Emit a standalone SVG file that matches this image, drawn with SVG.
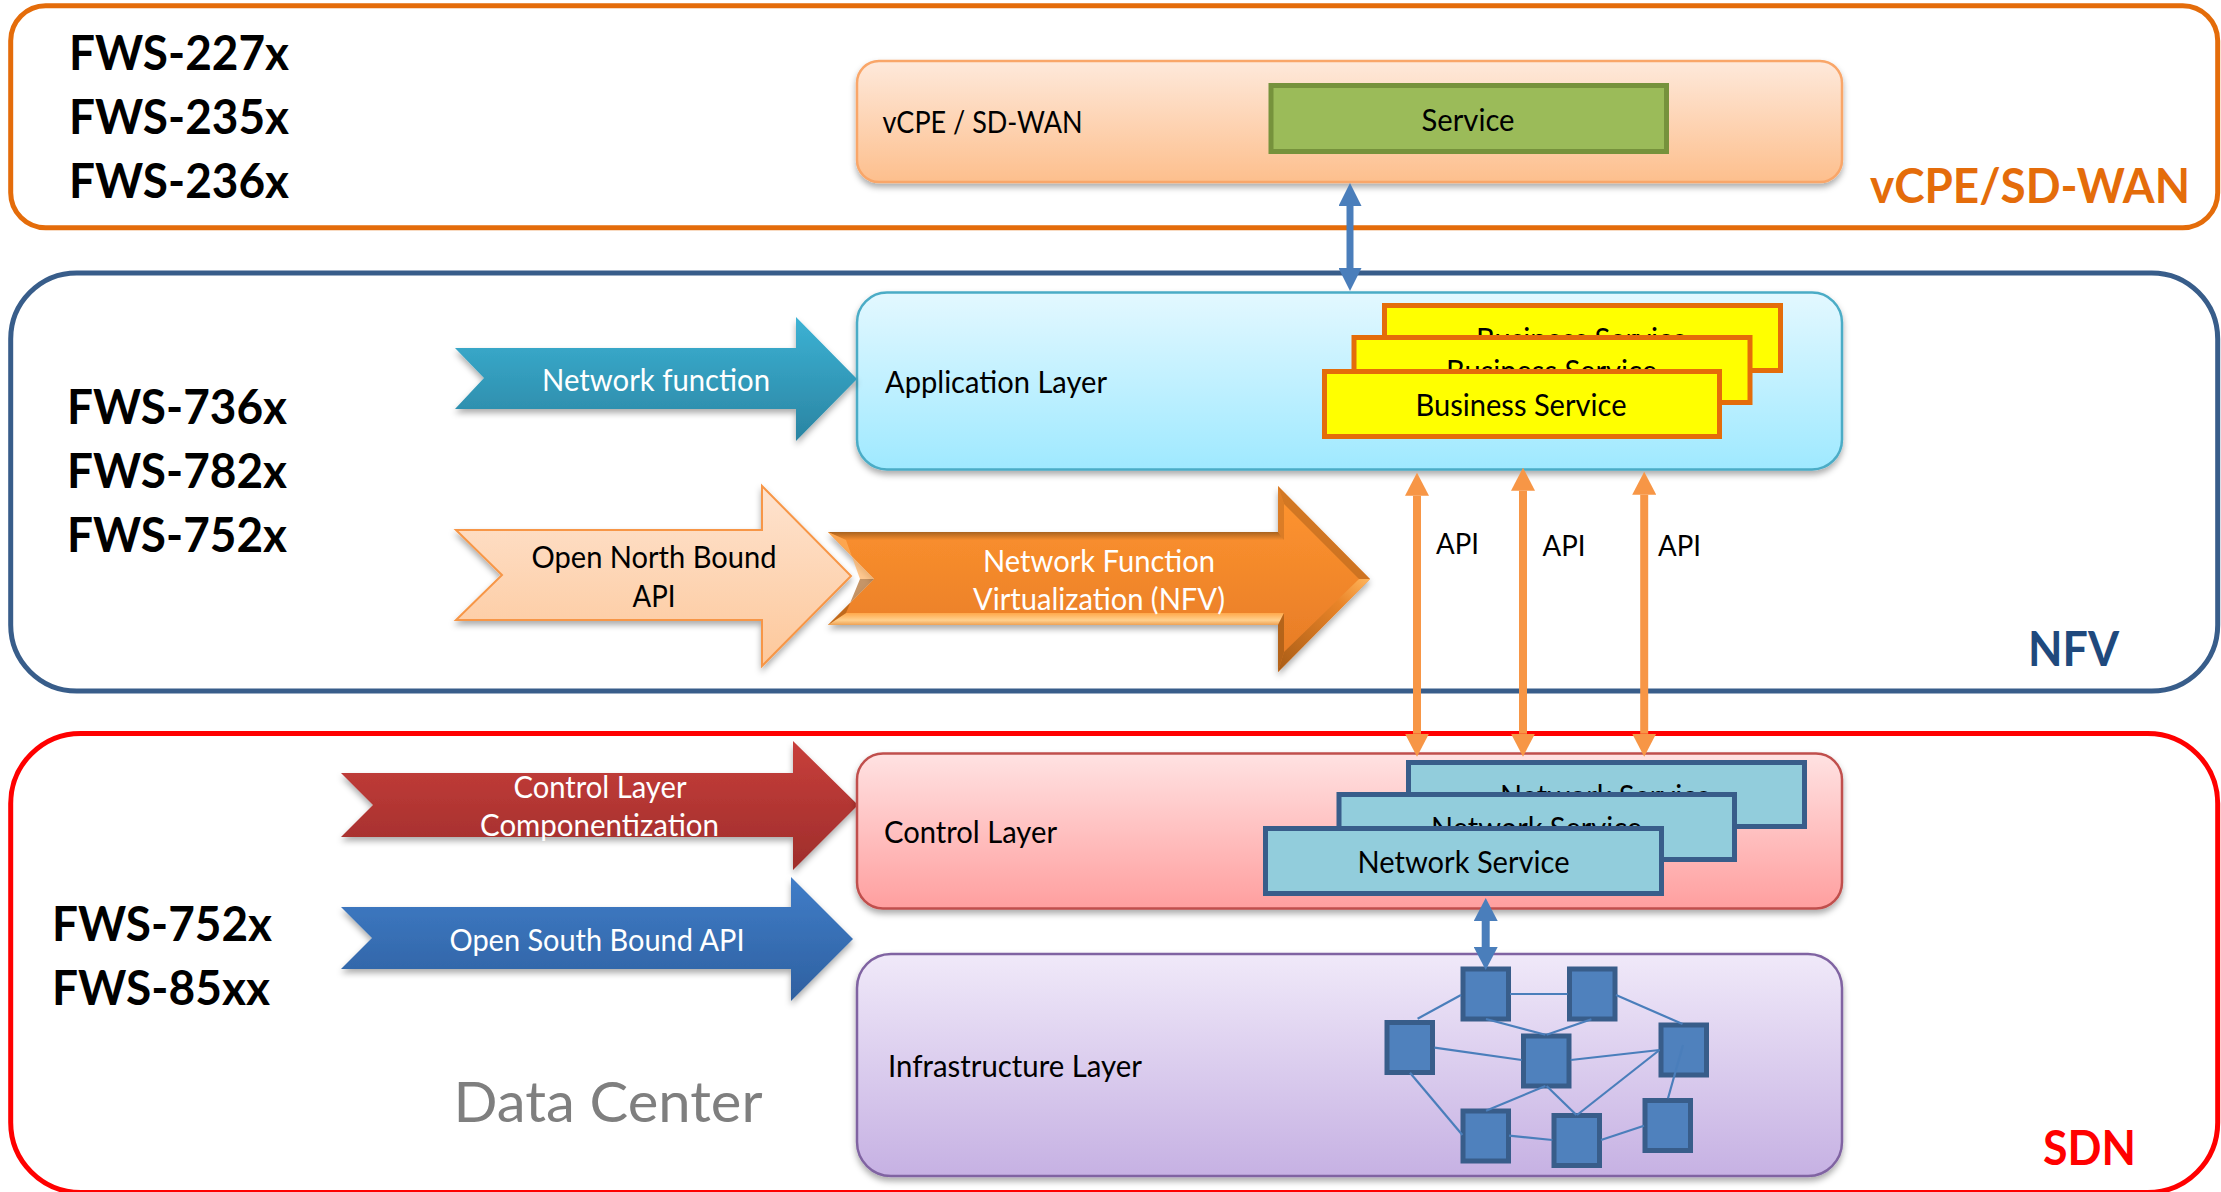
<svg xmlns="http://www.w3.org/2000/svg" width="2221" height="1192" viewBox="0 0 2221 1192">
<style>
text{font-family:Lato,"Liberation Sans",sans-serif;fill:#000}
.fws{font-size:48px;font-weight:700}
.lbl{font-size:30px}
.w{fill:#fff}
.c{text-anchor:middle}
.frame{fill:none;stroke-width:5}
.layer{stroke-width:2.5;filter:url(#sh)}
.biz{fill:#ff0;stroke:#e46c0a;stroke-width:5}
.net{fill:#92cddc;stroke:#385d8a;stroke-width:5}
.sw{fill:#4f81bd;stroke:#385d8a;stroke-width:5}
.ar{filter:url(#sh)}
.link{stroke:#4a7ebb;stroke-width:2.2;fill:none}
.blue{stroke:#4a7ebb;fill:none}
.api{stroke:#f79646;stroke-width:8;fill:none;marker-start:url(#oh);marker-end:url(#oh)}
</style>
<defs>
<filter id="sh" x="-5%" y="-10%" width="110%" height="125%"><feDropShadow dx="0" dy="4" stdDeviation="3" flood-color="#000" flood-opacity=".33"/></filter>
<linearGradient id="gV" x1="0" y1="0" x2="0" y2="1"><stop offset="0" stop-color="#fee9db"/><stop offset="1" stop-color="#fdbf8d"/></linearGradient>
<linearGradient id="gA" x1="0" y1="0" x2="0" y2="1"><stop offset="0" stop-color="#e3f8ff"/><stop offset="1" stop-color="#9fe9ff"/></linearGradient>
<linearGradient id="gC" x1="0" y1="0" x2="0" y2="1"><stop offset="0" stop-color="#ffe2e2"/><stop offset="1" stop-color="#ff9f9f"/></linearGradient>
<linearGradient id="gI" x1="0" y1="0" x2="0" y2="1"><stop offset="0" stop-color="#f0e9f9"/><stop offset="1" stop-color="#c6b1e3"/></linearGradient>
<linearGradient id="gT" x1="0" y1="0" x2="0" y2="1"><stop offset="0" stop-color="#3cb2d4"/><stop offset="1" stop-color="#2a84a2"/></linearGradient>
<linearGradient id="gP" x1="0" y1="0" x2="0" y2="1"><stop offset="0" stop-color="#fee3cf"/><stop offset="1" stop-color="#fdc89b"/></linearGradient>
<linearGradient id="gO" x1="0" y1="0" x2="0" y2="1"><stop offset="0" stop-color="#ff9530"/><stop offset="1" stop-color="#e57a26"/></linearGradient>
<linearGradient id="gR" x1="0" y1="0" x2="0" y2="1"><stop offset="0" stop-color="#c83f3b"/><stop offset="1" stop-color="#9e2d2b"/></linearGradient>
<linearGradient id="gB" x1="0" y1="0" x2="0" y2="1"><stop offset="0" stop-color="#407dc8"/><stop offset="1" stop-color="#2e60a0"/></linearGradient>
<linearGradient id="bTop" x1="0" y1="0" x2="0" y2="1"><stop offset="0" stop-color="#a8621e"/><stop offset="1" stop-color="#f58c2d"/></linearGradient>
<linearGradient id="bBot" x1="0" y1="0" x2="0" y2="1"><stop offset="0" stop-color="#ffa84a"/><stop offset=".6" stop-color="#ffd08e"/><stop offset="1" stop-color="#eea255"/></linearGradient>
<linearGradient id="bHead" gradientUnits="userSpaceOnUse" x1="1370" y1="579" x2="1278" y2="672"><stop offset="0" stop-color="#ffb55c"/><stop offset=".3" stop-color="#e98428"/><stop offset="1" stop-color="#a85c16"/></linearGradient>
<marker id="bh1" viewBox="0 0 23 23" refX="0" refY="11.5" markerUnits="userSpaceOnUse" markerWidth="23" markerHeight="23" orient="auto-start-reverse"><path d="M0,0L23,11.5L0,23z" fill="#4a7ebb"/></marker>
<marker id="bh2" viewBox="0 0 23 24" refX="0" refY="12" markerUnits="userSpaceOnUse" markerWidth="23" markerHeight="24" orient="auto-start-reverse"><path d="M0,0L23,12L0,24z" fill="#4a7ebb"/></marker>
<marker id="oh" viewBox="0 0 23 24" refX="0" refY="12" markerUnits="userSpaceOnUse" markerWidth="23" markerHeight="24" orient="auto-start-reverse"><path d="M0,0L23,12L0,24z" fill="#f79646"/></marker>
</defs>
<rect width="2221" height="1192" fill="#fff"/>

<g id="frame-vcpe"><rect class="frame" x="10.700" y="5.700" width="2207" height="222" rx="35" stroke="#e46c0a"/>
<text class="fws" x="69" y="70" textLength="220" lengthAdjust="spacingAndGlyphs">FWS-227x</text>
<text class="fws" x="69" y="134" textLength="220" lengthAdjust="spacingAndGlyphs">FWS-235x</text>
<text class="fws" x="69" y="198" textLength="220" lengthAdjust="spacingAndGlyphs">FWS-236x</text>
<text class="fws" x="1870" y="203" textLength="320" lengthAdjust="spacingAndGlyphs" style="fill:#e46c0a">vCPE/SD-WAN</text></g>

<g id="frame-nfv"><rect class="frame" x="10.700" y="273" width="2207" height="418" rx="66" stroke="#385d8a"/>
<text class="fws" x="67" y="424" textLength="220" lengthAdjust="spacingAndGlyphs">FWS-736x</text>
<text class="fws" x="67" y="488" textLength="220" lengthAdjust="spacingAndGlyphs">FWS-782x</text>
<text class="fws" x="67" y="552" textLength="220" lengthAdjust="spacingAndGlyphs">FWS-752x</text>
<text class="fws" x="2028" y="666" textLength="91" lengthAdjust="spacingAndGlyphs" style="fill:#1f497d">NFV</text></g>

<g id="frame-sdn"><rect class="frame" x="10.700" y="733.500" width="2207" height="459" rx="70" stroke="#f00"/>
<text class="fws" x="52" y="941" textLength="220" lengthAdjust="spacingAndGlyphs">FWS-752x</text>
<text class="fws" x="52" y="1005" textLength="218" lengthAdjust="spacingAndGlyphs">FWS-85xx</text>
<text x="2043" y="1165" class="fws" textLength="93" lengthAdjust="spacingAndGlyphs" style="fill:#f00">SDN</text>
<text x="453.500" y="1122" textLength="309" lengthAdjust="spacingAndGlyphs" style="font-size:57px;fill:#7f7f7f">Data Center</text></g>

<g id="layer-vcpe"><rect class="layer" x="857" y="61" width="985" height="121" rx="22" fill="url(#gV)" stroke="#f9a669"/>
<text class="lbl" x="882.500" y="133" textLength="200" lengthAdjust="spacingAndGlyphs">vCPE / SD-WAN</text></g>
<g id="service"><rect x="1271" y="85.500" width="395.500" height="66" fill="#9bbb59" stroke="#76923c" stroke-width="5"/>
<text class="lbl c" x="1468" y="130.500" textLength="93" lengthAdjust="spacingAndGlyphs">Service</text></g>

<g id="layer-application"><rect class="layer" x="857" y="292.500" width="985" height="177" rx="30" fill="url(#gA)" stroke="#4bacc6"/>
<text class="lbl" x="885" y="393" textLength="222" lengthAdjust="spacingAndGlyphs">Application Layer</text></g>
<g id="business-3"><rect class="biz" x="1384.500" y="305.500" width="396" height="65"/><text class="lbl c" x="1581.500" y="349.500" textLength="211" lengthAdjust="spacingAndGlyphs">Business Service</text></g>
<g id="business-2"><rect class="biz" x="1354" y="337.500" width="396" height="65"/><text class="lbl c" x="1551.500" y="381.500" textLength="211" lengthAdjust="spacingAndGlyphs">Business Service</text></g>
<g id="business-1"><rect class="biz" x="1324.500" y="371.500" width="395" height="65"/><text class="lbl c" x="1521" y="415.500" textLength="211" lengthAdjust="spacingAndGlyphs">Business Service</text></g>

<g id="arrow-network-function"><polygon class="ar" points="455,348 796,348 796,317 857,379 796,441 796,409 455,409 484,378" fill="url(#gT)"/>
<text class="lbl w" x="542" y="390.500" textLength="228" lengthAdjust="spacingAndGlyphs">Network function</text></g>

<g id="arrow-north-bound"><polygon class="ar" points="456,530 762,530 762,486 851,576 762,666 762,620 456,620 502,575" fill="url(#gP)" stroke="#f79646" stroke-width="2"/>
<text class="lbl c" x="654" y="568" textLength="245" lengthAdjust="spacingAndGlyphs">Open North Bound</text>
<text class="lbl c" x="654" y="607" textLength="43" lengthAdjust="spacingAndGlyphs">API</text></g>

<g id="arrow-nfv"><polygon class="ar" points="828,532 1278,532 1278,486 1370,579 1278,672 1278,625 828,625 874,579" fill="url(#gO)"/>
<polygon points="828,532 1278,532 1284,540 846,540" fill="url(#bTop)"/>
<polygon points="828,625 1278,625 1284,613 846,613" fill="url(#bBot)"/>
<polygon points="1278,486 1370,579 1359,579 1284,504" fill="#b5651d" opacity=".6"/>
<polygon points="1370,579 1278,672 1284,652 1359,579" fill="url(#bHead)"/>
<polygon points="1278,486 1284,504 1284,540 1278,532" fill="#b5651d" opacity=".45"/>
<polygon points="1278,625 1284,613 1284,652 1278,672" fill="#a85c16" opacity=".8"/>
<polygon points="828,625 874,579 860,579 846,613" fill="#a85c16" opacity=".65"/>
<polygon points="828,532 874,579 860,579 846,540" fill="#ffb060" opacity=".7"/>
<text class="lbl w c" x="1099" y="572" textLength="232" lengthAdjust="spacingAndGlyphs">Network Function</text>
<text class="lbl w c" x="1099" y="610" textLength="252" lengthAdjust="spacingAndGlyphs">Virtualization (NFV)</text></g>

<g id="arrow-control"><polygon class="ar" points="341,773 793,773 793,741 858,805 793,870 793,837 341,837 373,805" fill="url(#gR)"/>
<text class="lbl w c" x="600" y="798" textLength="173" lengthAdjust="spacingAndGlyphs">Control Layer</text>
<text class="lbl w c" x="599.500" y="836" textLength="239" lengthAdjust="spacingAndGlyphs">Componentization</text></g>

<g id="arrow-south-bound"><polygon class="ar" points="341,907 791,907 791,877 853,939 791,1001 791,969 341,969 372,938" fill="url(#gB)"/>
<text class="lbl w" x="449.500" y="950.500" textLength="295" lengthAdjust="spacingAndGlyphs">Open South Bound API</text></g>

<g id="layer-control"><rect class="layer" x="857" y="753.500" width="985" height="155" rx="26" fill="url(#gC)" stroke="#c0504d"/>
<text class="lbl" x="884" y="843" textLength="173" lengthAdjust="spacingAndGlyphs">Control Layer</text></g>
<g id="network-3"><rect class="net" x="1408.500" y="762.500" width="396" height="64"/><text class="lbl c" x="1605.500" y="807" textLength="211" lengthAdjust="spacingAndGlyphs">Network Service</text></g>
<g id="network-2"><rect class="net" x="1339" y="794.500" width="395.500" height="65"/><text class="lbl c" x="1536.500" y="839" textLength="211" lengthAdjust="spacingAndGlyphs">Network Service</text></g>
<g id="network-1"><rect class="net" x="1265.500" y="828.500" width="396" height="65"/><text class="lbl c" x="1463.500" y="873" textLength="212" lengthAdjust="spacingAndGlyphs">Network Service</text></g>

<g id="layer-infrastructure"><rect class="layer" x="857" y="954" width="985" height="222" rx="34" fill="url(#gI)" stroke="#8064a2"/>
<text class="lbl" x="888" y="1077" textLength="254" lengthAdjust="spacingAndGlyphs">Infrastructure Layer</text></g>

<g id="sw-a"><rect class="sw" x="1463" y="969" width="45.500" height="50"/></g>
<g id="sw-b"><rect class="sw" x="1569.500" y="969" width="45.500" height="50"/></g>
<g id="sw-c"><rect class="sw" x="1387" y="1022.500" width="45.500" height="50"/></g>
<g id="sw-d"><rect class="sw" x="1523.500" y="1036" width="45.500" height="50"/></g>
<g id="sw-e"><rect class="sw" x="1661" y="1025" width="45.500" height="50"/></g>
<g id="sw-f"><rect class="sw" x="1463" y="1111" width="45.500" height="50"/></g>
<g id="sw-g"><rect class="sw" x="1554" y="1115.500" width="45.500" height="50"/></g>
<g id="sw-h"><rect class="sw" x="1645" y="1100.500" width="45.500" height="50"/></g>

<g id="connectors">
<line class="blue" stroke-width="7" x1="1350" y1="206" x2="1350" y2="268" marker-start="url(#bh1)" marker-end="url(#bh1)"/>
<line class="blue" stroke-width="8" x1="1485.700" y1="921" x2="1485.700" y2="947" marker-start="url(#bh2)" marker-end="url(#bh2)"/>
<line class="api" x1="1417" y1="495.700" x2="1417" y2="733.700"/>
<line class="api" x1="1523" y1="490.700" x2="1523" y2="733.700"/>
<line class="api" x1="1644.200" y1="494.700" x2="1644.200" y2="733.700"/>
<line class="link" x1="1461" y1="995" x2="1417.600" y2="1018.700"/>
<line class="link" x1="1510" y1="994" x2="1567.600" y2="994"/>
<line class="link" x1="1616" y1="995" x2="1682.500" y2="1024"/>
<line class="link" x1="1486" y1="1019" x2="1545.400" y2="1034.700"/>
<line class="link" x1="1591.400" y1="1019.300" x2="1546.600" y2="1034.700"/>
<line class="link" x1="1434.500" y1="1047.700" x2="1521.700" y2="1060"/>
<line class="link" x1="1570.700" y1="1060" x2="1659.500" y2="1050"/>
<line class="link" x1="1659.500" y1="1050" x2="1577" y2="1115"/>
<line class="link" x1="1545.400" y1="1086" x2="1486" y2="1110.700"/>
<line class="link" x1="1546.600" y1="1086" x2="1576.400" y2="1115"/>
<line class="link" x1="1410" y1="1072.700" x2="1462.400" y2="1135"/>
<line class="link" x1="1509" y1="1135.700" x2="1552.300" y2="1140"/>
<line class="link" x1="1601" y1="1140" x2="1644" y2="1125.700"/>
<line class="link" x1="1683" y1="1045" x2="1668" y2="1098.300"/>
</g>

<g id="api-labels">
<text class="lbl c" x="1457.500" y="553.500" style="font-size:28px" textLength="43" lengthAdjust="spacingAndGlyphs">API</text>
<text class="lbl c" x="1564" y="555.500" style="font-size:28px" textLength="43" lengthAdjust="spacingAndGlyphs">API</text>
<text class="lbl c" x="1679.500" y="555.500" style="font-size:28px" textLength="43" lengthAdjust="spacingAndGlyphs">API</text>
</g>
</svg>
